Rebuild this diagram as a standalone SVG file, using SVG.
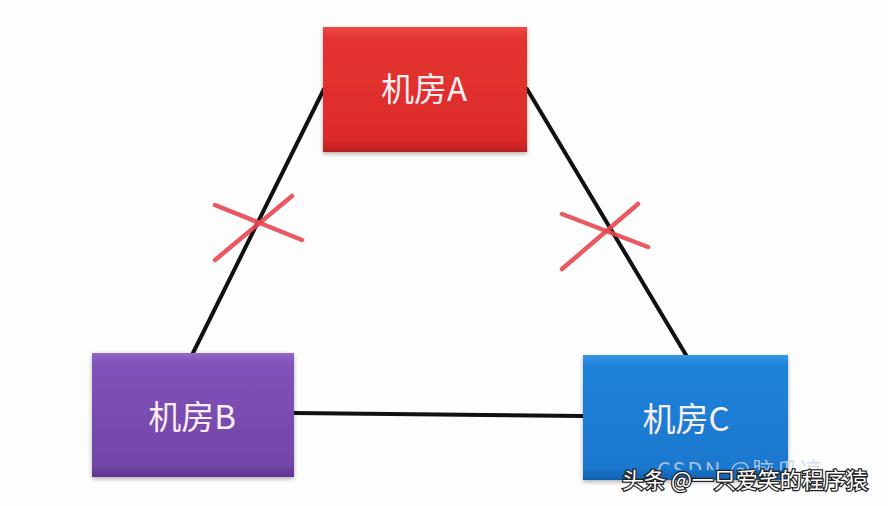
<svg xmlns="http://www.w3.org/2000/svg" width="888" height="506" viewBox="0 0 888 506">
  <defs>
    <linearGradient id="gA" x1="0" y1="0" x2="0" y2="1">
      <stop offset="0" stop-color="#ee4a44"/>
      <stop offset="0.08" stop-color="#e53431"/>
      <stop offset="0.9" stop-color="#dc2b2b"/>
      <stop offset="1" stop-color="#b81e1e"/>
    </linearGradient>
    <linearGradient id="gB" x1="0" y1="0" x2="0" y2="1">
      <stop offset="0" stop-color="#9468c8"/>
      <stop offset="0.08" stop-color="#8152b8"/>
      <stop offset="0.9" stop-color="#7446a8"/>
      <stop offset="1" stop-color="#5e3590"/>
    </linearGradient>
    <linearGradient id="gC" x1="0" y1="0" x2="0" y2="1">
      <stop offset="0" stop-color="#3a96e6"/>
      <stop offset="0.08" stop-color="#1f82d8"/>
      <stop offset="0.9" stop-color="#1a78cf"/>
      <stop offset="1" stop-color="#1060ae"/>
    </linearGradient>
    <filter id="sh" x="-10%" y="-10%" width="120%" height="130%">
      <feDropShadow dx="0" dy="2" stdDeviation="2" flood-color="#000" flood-opacity="0.3"/>
    </filter>
    <clipPath id="wmclip">
      <rect x="600" y="450" width="288" height="20"/>
    </clipPath>
  </defs>
  <style>
    .lbl { font-family: "Noto Sans CJK SC", "Noto Sans", sans-serif; font-size: 33px; fill: #f8eef4; text-anchor: middle; }
    .conn { stroke: #111; stroke-width: 4; stroke-linecap: round; fill: none; }
    .x { stroke: #e8474f; stroke-width: 4.5; stroke-linecap: round; opacity: 0.9; }
    .wm { font-family: "Noto Sans CJK SC", sans-serif; font-size: 22px; }
  </style>
  <rect width="888" height="506" fill="#fdfdfe"/>
  <g id="connectors">
    <line class="conn" x1="324" y1="89" x2="193" y2="353"/>
    <line class="conn" x1="527" y1="89" x2="686" y2="355"/>
    <line class="conn" x1="294" y1="413" x2="583" y2="416"/>
  </g>
  <g id="cross-ab">
    <line class="x" x1="215" y1="205" x2="302" y2="240"/>
    <line class="x" x1="215" y1="260" x2="292" y2="196"/>
  </g>
  <g id="cross-ac">
    <line class="x" x1="562" y1="214" x2="648" y2="247"/>
    <line class="x" x1="562" y1="269" x2="638" y2="204"/>
  </g>
  <g id="nodeA">
    <rect x="323" y="27" width="204" height="125" fill="url(#gA)" filter="url(#sh)"/>
    <text class="lbl" x="424" y="101">机房A</text>
  </g>
  <g id="nodeB">
    <rect x="92" y="353" width="202" height="124" fill="url(#gB)" filter="url(#sh)"/>
    <text class="lbl" x="192" y="429">机房B</text>
  </g>
  <g id="nodeC">
    <rect x="583" y="355" width="205" height="125" fill="url(#gC)" filter="url(#sh)"/>
    <text class="lbl" x="686" y="431">机房C</text>
  </g>
  <g id="watermarks">
    <text class="wm" x="657" y="478" font-size="25" letter-spacing="2" fill="#c8d6e6" opacity="0.8" clip-path="url(#wmclip)">CSDN @脑瓜凉</text>
    <text class="wm" x="622" y="488" fill="#ffffff" stroke="#222" stroke-width="2.5" paint-order="stroke">头条 @一只爱笑的程序猿</text>
  </g>
</svg>
